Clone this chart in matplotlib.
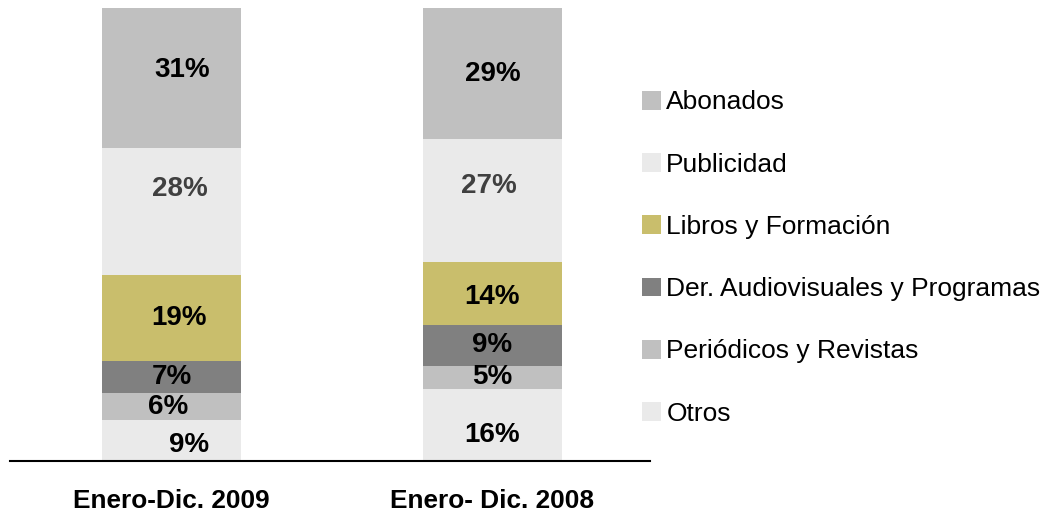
import matplotlib
matplotlib.use("Agg")
import matplotlib.pyplot as plt
from matplotlib.patches import Patch

categories = ["Enero-Dic. 2009", "Enero- Dic. 2008"]
series = ["Otros", "Periódicos y Revistas", "Der. Audiovisuales y Programas",
          "Libros y Formación", "Publicidad", "Abonados"]
otros = [9, 16]
periodicos = [6, 5]
derechos = [7, 9]
libros = [19, 14]
publicidad = [28, 27]
abonados = [31, 29]
values = [otros, periodicos, derechos, libros, publicidad, abonados]

colors = ["#EAEAEA", "#C0C0C0", "#808080", "#C9BE6C", "#EAEAEA", "#C0C0C0"]
label_colors = ["black", "black", "black", "black", "#404040", "black"]
# label offsets in pixels (dx, dy) per series per bar
label_dx = [[18, 0], [-3, 0], [1, 0], [8, 0], [9, -3], [11, 0]]
label_dy = [[-4, -10], [0, 0], [0, 0], [0, -4], [23, 15], [8, 0]]

plt.rcParams["font.family"] = ["Liberation Sans", "DejaVu Sans"]

fig = plt.figure(figsize=(10.56, 5.16), dpi=100)
ax = fig.add_axes([10/1056, 55/516, 640/1056, 453/516])

x = [0, 1]
bottom = [0, 0]
for i, (name, vals) in enumerate(zip(series, values)):
    bars = ax.bar(x, vals, width=0.433, bottom=bottom, color=colors[i],
                  edgecolor="none", label=name)
    for j, b in enumerate(bars):
        ax.annotate(f"{vals[j]}%",
                    xy=(b.get_x() + b.get_width() / 2, bottom[j] + vals[j] / 2),
                    xytext=(label_dx[i][j] * 0.72, label_dy[i][j] * 0.72),
                    textcoords="offset points",
                    ha="center", va="center", fontsize=20, fontweight="bold",
                    color=label_colors[i])
    bottom = [b + v for b, v in zip(bottom, vals)]

ax.set_xlim(-0.502, 1.491)
ax.set_ylim(0, 100)
for s in ["left", "right", "top"]:
    ax.spines[s].set_visible(False)
ax.spines["bottom"].set_linewidth(1.5)
ax.spines["bottom"].set_color("black")
ax.set_yticks([])
ax.set_xticks(x)
ax.set_xticklabels(categories, fontsize=18.9, fontweight="bold")
ax.tick_params(axis="x", length=0, pad=20)

handles = [Patch(facecolor=colors[i], edgecolor="none", label=series[i])
           for i in range(len(series) - 1, -1, -1)]
fig.legend(handles=handles, loc="center left", bbox_to_anchor=(642/1056, 0.5),
           frameon=False, fontsize=19, borderpad=0, borderaxespad=0,
           handlelength=0.72, handleheight=0.72, handletextpad=0.2,
           labelspacing=1.45)

fig.savefig("out.png", dpi=100)
